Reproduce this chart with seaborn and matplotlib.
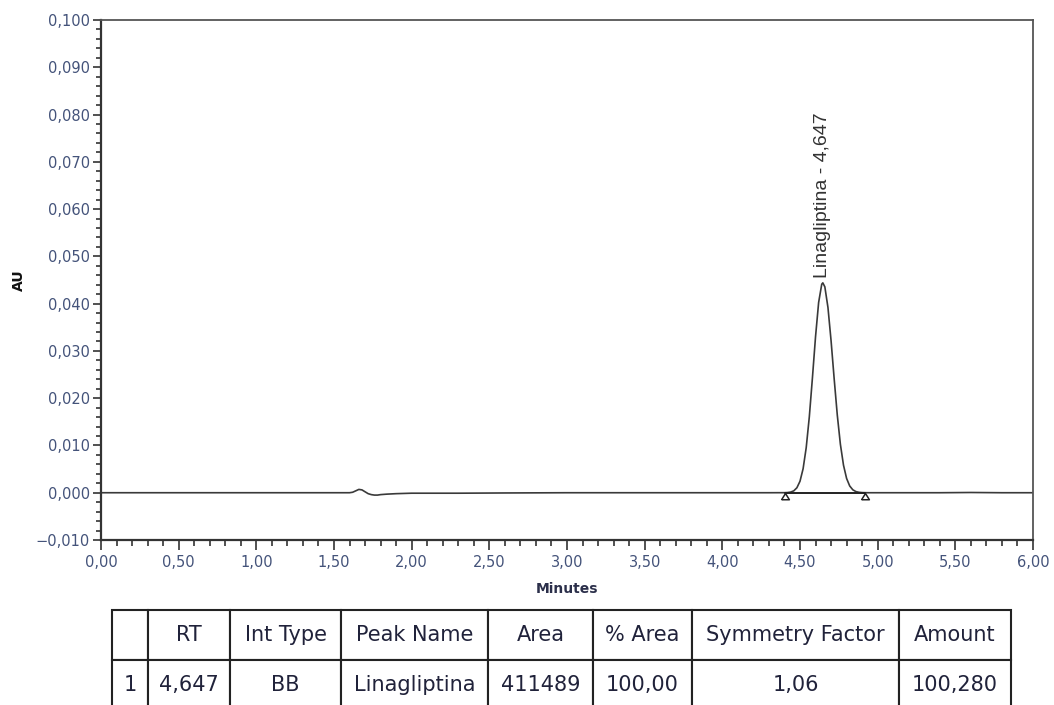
import numpy as np
import pandas as pd
import matplotlib
matplotlib.use("Agg")
import matplotlib.pyplot as plt
from matplotlib.ticker import MultipleLocator, FuncFormatter
import seaborn as sns

# Chromatogram trace: retention time (min) and detector response (AU)
time_min = [
    0.00, 0.50, 1.00, 1.40, 1.60, 1.62, 1.64, 1.66, 1.68, 1.70, 1.72, 1.74,
    1.76, 1.78, 1.80, 1.84, 1.90, 2.00, 2.30, 2.60, 3.00, 3.50, 4.00, 4.30,
    4.40, 4.42, 4.44, 4.46, 4.48, 4.50, 4.52, 4.54, 4.56, 4.58, 4.60, 4.62,
    4.64, 4.647, 4.66, 4.68, 4.70, 4.72, 4.74, 4.76, 4.78, 4.80, 4.82, 4.84,
    4.86, 4.88, 4.90, 4.92, 4.94, 5.10, 5.40, 5.60, 5.80, 6.00,
]
absorbance_au = [
    0.0, 0.0, 0.0, 0.0, 0.0, 0.0001, 0.0004, 0.0007, 0.0006, 0.0002, -0.0002, -0.0004,
    -0.0005, -0.0005, -0.0004, -0.0003, -0.0002, -0.0001, -0.0001, -0.00005, 0.0, 0.0, 0.0, 0.0,
    0.00001, 0.00004, 0.00014, 0.00040, 0.00105, 0.00243, 0.00508, 0.00954, 0.01606, 0.02430, 0.03300, 0.04026,
    0.04411, 0.04440, 0.04355, 0.03918, 0.03216, 0.02409, 0.01645, 0.01025, 0.00583, 0.00302, 0.00143, 0.00062,
    0.00024, 0.00009, 0.00003, 0.00001, 0.0, 0.0, 0.0, 0.00005, 0.0, 0.0,
]

# Integration baseline limits of the main peak
baseline_start = 4.405
baseline_end = 4.92

# Peak annotation
peak_rt = 4.647
peak_height = 0.0444
peak_name = "Linagliptina"

# Peak results table
table_headers = ["", "RT", "Int Type", "Peak Name", "Area", "% Area", "Symmetry Factor", "Amount"]
table_row = ["1", "4,647", "BB", "Linagliptina", "411489", "100,00", "1,06", "100,280"]

W, H = 1054, 705
sns.set_theme(style="white")
plt.rcParams["font.family"] = ["DejaVu Sans"]

fig = plt.figure(figsize=(W / 100, H / 100), dpi=100)
ax = fig.add_axes([101 / W, 1 - 540 / H, (1033 - 101) / W, (540 - 20) / H])

df = pd.DataFrame({"Minutes": time_min, "AU": absorbance_au})
sns.lineplot(data=df, x="Minutes", y="AU", ax=ax, color="#3a3a3a",
             linewidth=1.2, estimator=None, sort=True)

# Integration baseline with start/end markers
ax.plot([baseline_start, baseline_end], [0, 0], color="#222222", linewidth=1.4)
tri = [(-1, -1.6), (1, -1.6), (0, 0), (-1, -1.6)]
ax.plot([baseline_start, baseline_end], [0, 0], linestyle="none", marker=tri,
        markersize=9, markerfacecolor="white", markeredgecolor="#222222",
        markeredgewidth=1.1)

# Peak label
ax.text(peak_rt, peak_height + 0.0011, f"{peak_name} - {peak_rt:.3f}".replace(".", ","),
        rotation=90, ha="center", va="bottom", fontsize=14,
        family="Liberation Sans", color="#333333")

ax.set_xlim(0, 6)
ax.set_ylim(-0.010, 0.100)
ax.xaxis.set_major_locator(MultipleLocator(0.5))
ax.xaxis.set_minor_locator(MultipleLocator(0.1))
ax.yaxis.set_major_locator(MultipleLocator(0.01))
ax.yaxis.set_minor_locator(MultipleLocator(0.002))


def fmt(decimals):
    def f(v, pos):
        s = f"{v:.{decimals}f}".replace(".", ",")
        if s.startswith("-"):
            s = "\u2212" + s[1:]
        if s == "\u22120," + "0" * decimals:
            s = s[1:]
        return s
    return FuncFormatter(f)


ax.xaxis.set_major_formatter(fmt(2))
ax.yaxis.set_major_formatter(fmt(3))

label_color = "#44537a"
ax.tick_params(axis="x", which="major", direction="out", length=7.5, width=1.2,
               color="#333333", labelsize=10.5, labelcolor=label_color, pad=3, bottom=True)
ax.tick_params(axis="x", which="minor", direction="out", length=4.5, width=1.2,
               color="#333333", bottom=True)
ax.tick_params(axis="y", which="major", direction="out", length=6, width=1.2,
               color="#333333", labelsize=10.5, labelcolor=label_color, pad=2, left=True)
ax.tick_params(axis="y", which="minor", direction="out", length=3.5, width=1.2,
               color="#333333", left=True)

for side, sp in ax.spines.items():
    sp.set_visible(True)
    sp.set_color("#333333" if side in ("left", "bottom") else "#555555")
    sp.set_linewidth(1.6 if side in ("left", "bottom") else 1.3)

ax.set_xlabel("Minutes", fontsize=10, fontweight="bold", color="#2b2f4a", labelpad=9)
ax.set_ylabel("AU", fontsize=10, fontweight="bold", color="#111111")
ax.yaxis.set_label_coords((26 - 101) / (1033 - 101), 0.5)
ax.grid(False)

# Results table below the chromatogram
border_px = [112, 148, 230, 341, 488, 593, 692, 899, 1011]
widths = np.diff(border_px)
tax = fig.add_axes([112 / W, (705 - 710) / H, (1011 - 112) / W, 100 / H])
tax.axis("off")
tbl = tax.table(cellText=[table_row], colLabels=table_headers,
                colWidths=list(widths / widths.sum()), cellLoc="center",
                bbox=[0, 0, 1, 1])
tbl.auto_set_font_size(False)
tbl.set_fontsize(15)
for (r, c), cell in tbl.get_celld().items():
    cell.set_edgecolor("#222222")
    cell.set_linewidth(1.5)
    cell.get_text().set_color("#20223a")

fig.savefig("out.png", dpi=100)
